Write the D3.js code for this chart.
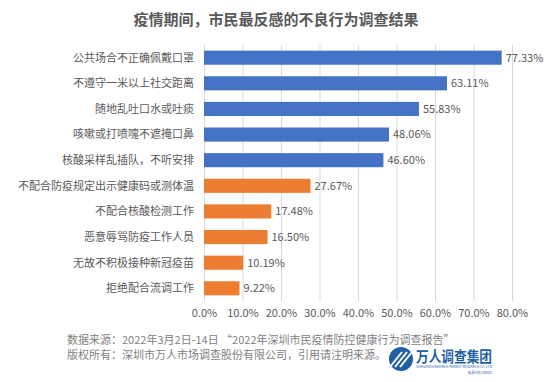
<!DOCTYPE html>
<html><head><meta charset="utf-8">
<script src="https://cdn.jsdelivr.net/npm/d3@7"></script>
<style>body{margin:0;background:#fff;}svg{display:block;font-family:"Noto Sans CJK SC","Microsoft YaHei",sans-serif;}</style>
</head><body>
<svg id="c" width="553" height="382"></svg>
<script>
const categories = ["公共场合不正确佩戴口罩","不遵守一米以上社交距离","随地乱吐口水或吐痰","咳嗽或打喷嚏不遮掩口鼻","核酸采样乱插队，不听安排","不配合防疫规定出示健康码或测体温","不配合核酸检测工作","恶意辱骂防疫工作人员","无故不积极接种新冠疫苗","拒绝配合流调工作"];
const values = [77.33,63.11,55.83,48.06,46.60,27.67,17.48,16.50,10.19,9.22];
const groups = ["blue","blue","blue","blue","blue","orange","orange","orange","orange","orange"];
const ticks = [0,10,20,30,40,50,60,70,80];
const title = "疫情期间，市民最反感的不良行为调查结果";
const footer = ["数据来源：2022年3月2日-14日 “2022年深圳市民疫情防控健康行为调查报告”","版权所有：深圳市万人市场调查股份有限公司，引用请注明来源。"];

const colors = {blue:"#4472C4", orange:"#ED7D31"};
const svg = d3.select("#c");
const x = d3.scaleLinear().domain([0,80]).range([204,512]);
const y = d3.scaleBand().domain(categories).range([45,301]).paddingInner(0.45).paddingOuter(0.22);

svg.append("text").attr("x",276).attr("y",25).attr("text-anchor","middle")
  .attr("font-size",15).attr("font-weight","bold").attr("fill","#595959").text(title);

// gridlines
svg.append("g").selectAll("line").data(ticks).join("line")
  .attr("x1",d=>x(d)+0.5).attr("x2",d=>x(d)+0.5).attr("y1",45).attr("y2",301)
  .attr("stroke","#d9d9d9").attr("stroke-width",1);

// axis tick labels
const ax = svg.append("g").attr("transform","translate(0,306)")
  .call(d3.axisBottom(x).tickValues(ticks).tickSize(0).tickFormat(d=>d.toFixed(1)+"%"));
ax.select(".domain").remove();
ax.selectAll("text").attr("font-size",11).attr("fill","#595959").attr("font-family","'Noto Sans CJK SC',sans-serif");

// y labels
svg.append("g").selectAll("text").data(categories).join("text")
  .attr("x",194).attr("y",d=>y(d)+y.bandwidth()/2).attr("dy","0.35em")
  .attr("text-anchor","end").attr("font-size",11).attr("fill","#595959").text(d=>d);

// bars
svg.append("g").selectAll("rect").data(values).join("rect")
  .attr("x",x(0)).attr("y",(d,i)=>y(categories[i])).attr("height",y.bandwidth())
  .attr("width",d=>x(d)-x(0)).attr("fill",(d,i)=>colors[groups[i]]);

// value labels
svg.append("g").selectAll("text").data(values).join("text")
  .attr("x",d=>x(d)+4).attr("y",(d,i)=>y(categories[i])+y.bandwidth()/2).attr("dy","0.35em")
  .attr("font-size",11).attr("fill","#595959").text(d=>d.toFixed(2)+"%");

// footer
svg.append("g").selectAll("text").data(footer).join("text")
  .attr("x",67).attr("y",(d,i)=>344+i*15).attr("font-size",11).attr("fill","#7f7f7f").text(d=>d);

// logo
const lg = svg.append("g").attr("transform","translate(401,359)");
lg.append("circle").attr("r",12).attr("fill","#1f5fa8");
[-6,-1,4].forEach(o=>lg.append("line").attr("x1",o-5).attr("y1",8).attr("x2",o+7).attr("y2",-7).attr("stroke","#fff").attr("stroke-width",2));
lg.append("text").attr("x",15).attr("y",3).attr("font-size",15).attr("font-weight","bold").attr("fill","#1f5fa8")
  .attr("textLength",76).attr("lengthAdjust","spacingAndGlyphs").text("万人调查集团");
lg.append("text").attr("x",15).attr("y",9).attr("font-size",3).attr("fill","#1f5fa8")
  .attr("textLength",76).attr("lengthAdjust","spacingAndGlyphs").text("SHENZHEN WANREN MARKET RESEARCH CO.,LTD");
lg.append("text").attr("x",91).attr("y",15).attr("text-anchor","end").attr("font-size",3.5).attr("fill","#1f5fa8")
  .attr("textLength",24).attr("lengthAdjust","spacingAndGlyphs").text("股票代码 430481");
</script>
</body></html>
